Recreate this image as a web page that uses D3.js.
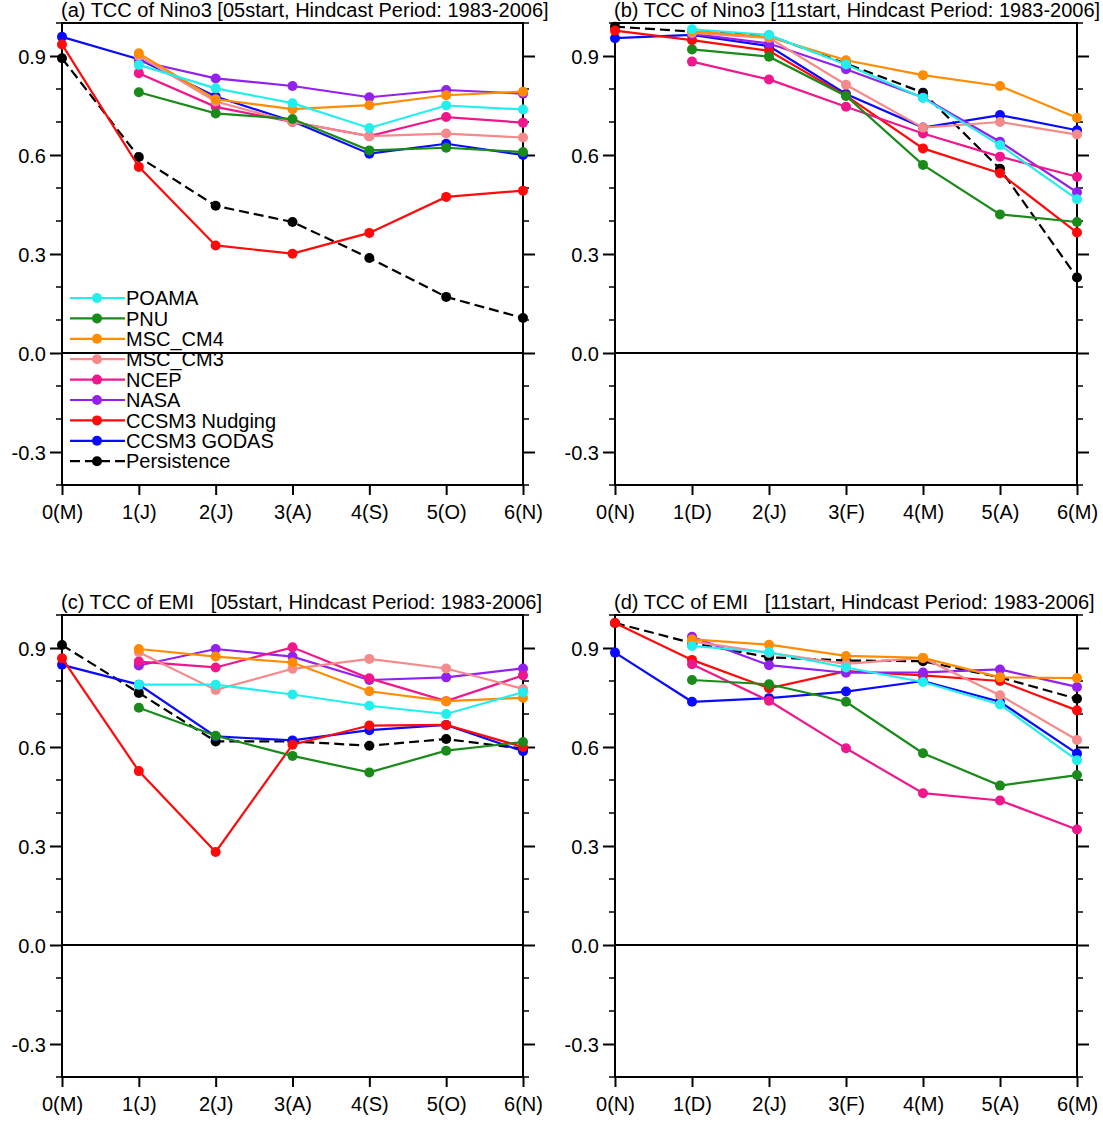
<!DOCTYPE html>
<html><head><meta charset="utf-8">
<script src="https://cdn.jsdelivr.net/npm/d3@7"></script>
<style>body{margin:0;background:#fff}svg{display:block}text{font-family:"Liberation Sans",Arial,Helvetica,sans-serif;fill:#000}</style>
</head><body><svg id="c" width="1103" height="1126"></svg>
<script>
const models = ["POAMA","PNU","MSC_CM4","MSC_CM3","NCEP","NASA","CCSM3 Nudging","CCSM3 GODAS","Persistence"];
const colors = ["#22EEEE","#1A8A1A","#FF8C00","#F58A8A","#F0168C","#9320EE","#FF0A0A","#0A0AFF","#000000"];
const leadsMay = ["0(M)","1(J)","2(J)","3(A)","4(S)","5(O)","6(N)"];
const leadsNov = ["0(N)","1(D)","2(J)","3(F)","4(M)","5(A)","6(M)"];
const yTicks = [-0.3,0.0,0.3,0.6,0.9];
const titles = ["(a) TCC of Nino3 [05start, Hindcast Period: 1983-2006]",
                "(b) TCC of Nino3 [11start, Hindcast Period: 1983-2006]",
                "(c) TCC of EMI   [05start, Hindcast Period: 1983-2006]",
                "(d) TCC of EMI   [11start, Hindcast Period: 1983-2006]"];
// series values per panel, order = models
const nino3May = [
 [null,.873,.802,.757,.682,.750,.738],
 [null,.790,.726,.709,.614,.622,.609],
 [null,.908,.769,.739,.751,.781,.792],
 [null,.900,.762,.700,.657,.665,.653],
 [null,.848,.746,.700,.657,.715,.698],
 [null,.885,.832,.809,.775,.797,.786],
 [.935,.564,.326,.301,.364,.473,.492],
 [.958,.890,.777,.702,.604,.634,.600],
 [.893,.594,.446,.397,.288,.170,.106]];
const nino3Nov = [
 [null,.981,.964,.874,.773,.630,.466],
 [null,.920,.898,.779,.570,.420,.397],
 [null,.975,.958,.887,.842,.809,.713],
 [null,.970,.955,.813,.683,.700,.662],
 [null,.883,.829,.746,.665,.595,.534],
 [null,.967,.938,.860,.774,.640,.487],
 [.977,.948,.916,.780,.620,.545,.365],
 [.954,.964,.930,.785,.683,.721,.675],
 [.989,.974,.962,.877,.789,.558,.229]];
const emiMay = [
 [null,.789,.789,.759,.725,.700,.766],
 [null,.719,.634,.573,.523,.589,.615],
 [null,.897,.874,.856,.769,.739,.749],
 [null,.887,.773,.837,.867,.838,.776],
 [null,.859,.841,.902,.808,.739,.817],
 [null,.847,.897,.874,.803,.811,.838],
 [.869,.527,.282,.607,.665,.667,.600],
 [.849,.789,.632,.620,.651,.667,.587],
 [.909,.764,.617,.617,.604,.624,.595]];
const emiNov = [
 [null,.906,.887,.841,.797,.729,.560],
 [null,.803,.790,.737,.581,.483,.515],
 [null,.926,.910,.876,.870,.811,.809],
 [null,.920,.885,.852,.870,.757,.621],
 [null,.851,.740,.596,.460,.438,.350],
 [null,.934,.848,.825,.826,.835,.782],
 [.976,.864,.778,.830,.817,.800,.711],
 [.886,.737,.748,.768,.800,.737,.580],
 [.976,.915,.872,.862,.860,.811,.746]];

const svg = d3.select("#c");
const panels = [
 {data:nino3May, leads:leadsMay, title:titles[0], l:62, r:523, t:23, b:485, legend:true},
 {data:nino3Nov, leads:leadsNov, title:titles[1], l:615, r:1077, t:23, b:485},
 {data:emiMay, leads:leadsMay, title:titles[2], l:62, r:523, t:615, b:1077},
 {data:emiNov, leads:leadsNov, title:titles[3], l:615, r:1077, t:615, b:1077}];

panels.forEach(p => {
  const x = d3.scalePoint().domain(p.leads).range([p.l, p.r]);
  const y = d3.scaleLinear().domain([-0.4, 1.0]).range([p.b, p.t]);
  const g = svg.append("g");
  // minor ticks
  const minors = d3.range(-4, 11).map(v => v/10).filter(v => !yTicks.some(t => Math.abs(t-v) < 1e-6));
  minors.forEach(v => {
    g.append("line").attr("x1", p.l-6).attr("x2", p.l).attr("y1", y(v)).attr("y2", y(v)).attr("stroke","#000").attr("stroke-width",1.5);
    g.append("line").attr("x1", p.r).attr("x2", p.r+6).attr("y1", y(v)).attr("y2", y(v)).attr("stroke","#000").attr("stroke-width",1.5);
  });
  // left axis
  const ya = d3.axisLeft(y).tickValues(yTicks).tickSize(12).tickPadding(4).tickFormat(d => d.toFixed(1));
  const gl = g.append("g").attr("transform", `translate(${p.l},0)`).call(ya);
  gl.select(".domain").remove();
  gl.selectAll(".tick line").attr("stroke-width", 2);
  gl.selectAll(".tick text").attr("font-size", 20).attr("dy", "0.36em").style("font-family", '"Liberation Sans",Arial,sans-serif');
  const yr = d3.axisRight(y).tickValues(yTicks).tickSize(12).tickFormat("");
  const gr = g.append("g").attr("transform", `translate(${p.r},0)`).call(yr);
  gr.select(".domain").remove();
  gr.selectAll(".tick line").attr("stroke-width", 2);
  // bottom axis
  const xa = d3.axisBottom(x).tickSize(10).tickPadding(10);
  const gb = g.append("g").attr("transform", `translate(0,${p.b})`).call(xa);
  gb.select(".domain").remove();
  gb.selectAll(".tick line").attr("stroke-width", 2);
  gb.selectAll(".tick text").attr("font-size", 20).style("font-family", '"Liberation Sans",Arial,sans-serif');
  // zero line
  g.append("line").attr("x1", p.l).attr("x2", p.r).attr("y1", y(0)).attr("y2", y(0)).attr("stroke","#000")
    .attr("stroke-width",1.3).attr("shape-rendering","crispEdges");
  // frame
  g.append("rect").attr("x", p.l).attr("y", p.t).attr("width", p.r-p.l).attr("height", p.b-p.t)
    .attr("fill","none").attr("stroke","#000").attr("stroke-width",2);
  // title
  g.append("text").attr("x", p.l-1).attr("y", p.t-6).attr("font-size", 20).attr("xml:space","preserve")
    .style("white-space","pre").text(p.title);
  // series, drawn in reverse legend order
  const line = d3.line().defined(d => d.v != null).x(d => x(d.k)).y(d => y(d.v));
  for (let i = models.length-1; i >= 0; i--) {
    const pts = p.data[i].map((v,j) => ({k:p.leads[j], v}));
    g.append("path").datum(pts).attr("d", line).attr("fill","none").attr("stroke", colors[i])
      .attr("stroke-width", 2.2).attr("stroke-dasharray", i === 8 ? "10,5" : null);
    g.selectAll(null).data(pts.filter(d => d.v != null)).enter().append("circle")
      .attr("cx", d => x(d.k)).attr("cy", d => y(d.v)).attr("r", 5).attr("fill", colors[i]);
  }
  if (p.legend) {
    const lg = g.append("g");
    models.forEach((m,i) => {
      const yy = 298 + i*20.4;
      lg.append("line").attr("x1",70).attr("x2",125).attr("y1",yy).attr("y2",yy).attr("stroke",colors[i])
        .attr("stroke-width",2.2).attr("stroke-dasharray", i === 8 ? "10,5" : null);
      lg.append("circle").attr("cx",97).attr("cy",yy).attr("r",5).attr("fill",colors[i]);
      lg.append("text").attr("x",126).attr("y",yy).attr("dy","0.36em").attr("font-size",20).text(m);
    });
  }
});
</script></body></html>
